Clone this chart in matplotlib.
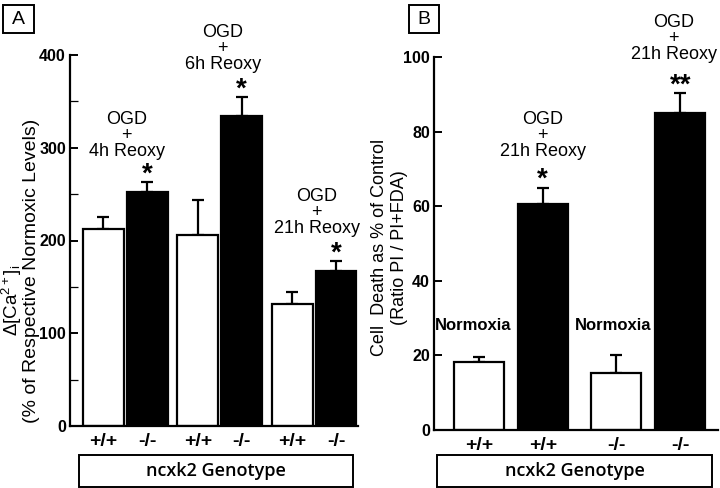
import numpy as np
import matplotlib
matplotlib.use('Agg')
from matplotlib import pyplot as plt
from matplotlib.patches import Rectangle

plt.rcParams['font.family'] = ['Liberation Sans', 'DejaVu Sans']
plt.rcParams['mathtext.fontset'] = 'custom'
plt.rcParams['mathtext.rm'] = 'Liberation Sans'
plt.rcParams['mathtext.it'] = 'Liberation Sans'

# panel A: delta [Ca2+]i, % of respective normoxic levels
a_labels = ['+/+', '-/-', '+/+', '-/-', '+/+', '-/-']
a_values = [212, 252, 206, 334, 131, 167]
a_errors = [13, 11, 38, 21, 13, 11]
a_filled = [False, True, False, True, False, True]
a_groups = ['OGD\n+\n4h Reoxy', 'OGD\n+\n6h Reoxy', 'OGD\n+\n21h Reoxy']

# panel B: cell death as % of control
b_labels = ['+/+', '+/+', '-/-', '-/-']
b_values = [18.2, 60.5, 15.2, 85.0]
b_errors = [1.4, 4.5, 4.9, 5.3]
b_filled = [False, True, False, True]
b_notes = ['Normoxia', 'OGD\n+\n21h Reoxy', 'Normoxia', 'OGD\n+\n21h Reoxy']
b_stars = ['', '*', '', '**']

W, H = 720, 488
fig = plt.figure(figsize=(W / 100, H / 100), dpi=100)


def px_axes(x0, x1, ytop, ybot):
    return fig.add_axes([x0 / W, 1 - ybot / H, (x1 - x0) / W, (ybot - ytop) / H])


def draw_bars(ax, pos, vals, errs, filled, width):
    for x, v, e, f in zip(pos, vals, errs, filled):
        ax.bar(x, v, width, color='black' if f else 'white', edgecolor='black',
               linewidth=1.6, zorder=2)
        ax.errorbar(x, v, yerr=[[0], [e]], fmt='none', ecolor='black',
                    elinewidth=1.6, capsize=4, capthick=1.6, zorder=1)


def style_axes(ax):
    for s in ['top', 'right']:
        ax.spines[s].set_visible(False)
    for s in ['left', 'bottom']:
        ax.spines[s].set_linewidth(1.6)
    ax.tick_params(axis='y', direction='in', length=6, width=1.4, labelsize=11.5, pad=3)
    ax.tick_params(axis='x', length=0, labelsize=14, pad=5)
    for t in ax.get_yticklabels() + ax.get_xticklabels():
        t.set_fontweight('bold')


def star(ax, x, top, s):
    ax.annotate(s, xy=(x, top), xytext=(0, -4), textcoords='offset points',
                ha='center', va='bottom', fontsize=20, fontweight='bold')


def boxed(x0, x1, y0, y1, text, size, weight='normal', family=None):
    fig.patches.append(Rectangle((x0 / W, 1 - y1 / H), (x1 - x0) / W, (y1 - y0) / H,
                                 transform=fig.transFigure, facecolor='white',
                                 edgecolor='black', linewidth=1.4))
    kw = {}
    if family:
        kw['family'] = family
    fig.text((x0 + x1) / 2 / W, 1 - (y0 + y1) / 2 / H, text, ha='center', va='center',
             fontsize=size, fontweight=weight, **kw)


# ---- panel A
axA = px_axes(70, 358, 55, 426)
a_pos = np.array([0, 1, 2.15, 3.15, 4.3, 5.3])
draw_bars(axA, a_pos, a_values, a_errors, a_filled, 0.93)
axA.set_xlim(-0.76, 5.8)
axA.set_ylim(0, 400)
axA.set_yticks([0, 100, 200, 300, 400])
axA.set_yticks([50, 150, 250, 350], minor=True)
axA.tick_params(axis='y', which='minor', direction='in', length=6, width=0.9)
axA.set_xticks(a_pos)
axA.set_xticklabels(a_labels)
style_axes(axA)

for i in [1, 3, 5]:
    star(axA, a_pos[i], a_values[i] + a_errors[i], '*')
for (gx, gy), txt in zip([(0.53, 313), (2.72, 407), (4.86, 230)], a_groups):
    axA.text(gx, gy, txt, ha='center', va='center', fontsize=13, linespacing=0.9,
             clip_on=False)

fig.text(12 / W, 1 - 300 / H, r'$\Delta$[Ca$^{2+}$]$_\mathrm{i}$', rotation=90,
         ha='center', va='center', fontsize=13.5)
fig.text(32 / W, 1 - 271 / H, '(% of Respective Normoxic Levels)', rotation=90,
         ha='center', va='center', fontsize=14)

# ---- panel B
axB = px_axes(434, 718, 57, 430)
b_pos = np.array([0, 1, 2.15, 3.15])
draw_bars(axB, b_pos, b_values, b_errors, b_filled, 0.78)
axB.set_xlim(-0.7, 3.74)
axB.set_ylim(0, 100)
axB.set_yticks([0, 20, 40, 60, 80, 100])
axB.set_xticks(b_pos)
axB.set_xticklabels(b_labels)
style_axes(axB)

for x, v, e, s in zip(b_pos, b_values, b_errors, b_stars):
    if s:
        star(axB, x, v + e, s)
for (nx, ny), txt in zip([(-0.09, 28.1), (1.0, 79), (2.1, 28.1), (3.05, 105)], b_notes):
    if txt == 'Normoxia':
        axB.text(nx, ny, txt, ha='center', va='center', fontsize=12, fontweight='bold')
    else:
        axB.text(nx, ny, txt, ha='center', va='center', fontsize=13, linespacing=0.9,
                 clip_on=False)

fig.text(379 / W, 1 - 247 / H, 'Cell  Death as % of Control', rotation=90,
         ha='center', va='center', fontsize=13)
fig.text(399 / W, 1 - 248 / H, '(Ratio PI / PI+FDA)', rotation=90,
         ha='center', va='center', fontsize=13)

# genotype boxes and panel letters
boxed(79, 353, 455, 487, 'ncxk2 Genotype', 13, 'semibold', 'Open Sans')
boxed(437, 712, 455, 487, 'ncxk2 Genotype', 13, 'semibold', 'Open Sans')
boxed(3, 34, 5, 33, 'A', 14)
boxed(409, 439, 5, 33, 'B', 14)

fig.savefig('out.png', dpi=100)
